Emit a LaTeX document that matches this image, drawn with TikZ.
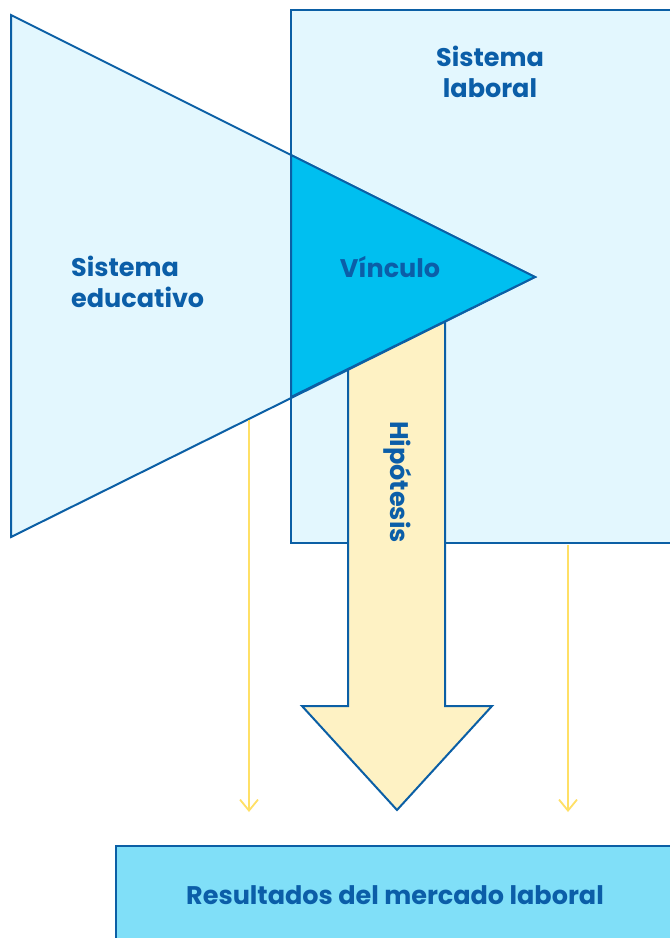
\documentclass[tikz,border=0pt]{standalone}
\usepackage{fontspec}
\setmainfont{Poppins}
\usetikzlibrary{arrows.meta}
\definecolor{dblue}{HTML}{0B5FA5}
\definecolor{txtblue}{HTML}{0B5EA8}
\definecolor{lightfill}{HTML}{E3F7FE}
\definecolor{vinc}{HTML}{00BFF0}
\definecolor{yfill}{HTML}{FEF2C4}
\definecolor{boxfill}{HTML}{80DFF8}
\definecolor{yline}{HTML}{FFE066}
\tikzset{
  shapeline/.style={draw=dblue, line width=2pt, line join=miter},
  lbl/.style={text=txtblue, font=\bfseries\fontsize{25.5}{31}\selectfont, inner sep=0pt},
  thinarrow/.style={draw=yline, line width=1.8pt, -{Straight Barb[length=11pt,width=18pt,line width=1.8pt]}}
}
\begin{document}
\begin{tikzpicture}[x=1pt,y=-1pt]
\useasboundingbox (0,0) rectangle (670,938);
\fill[white] (0,0) rectangle (670,938);
% labour system rectangle
\draw[shapeline, fill=lightfill] (291,10) rectangle (690,543);
% big hypothesis arrow
\draw[shapeline, fill=yfill] (348,330) -- (348,706) -- (302,706) -- (397,810) -- (492,706) -- (445,706) -- (445,300) -- cycle;
% education triangle
\draw[shapeline, fill=lightfill] (11,15) -- (535,277) -- (11,537) -- cycle;
% link region
\draw[shapeline, fill=vinc] (291,155) -- (535,277) -- (291,397) -- cycle;
% bottom box
\draw[shapeline, fill=boxfill] (116,846) rectangle (690,960);
% labels
\node[lbl, align=center] (lab) at (490,72) {Sistema\\laboral};
\node[lbl, align=left, anchor=west] (edu) at (71,282) {Sistema\\educativo};
\node[lbl] (vin) at (390,267) {Vínculo};
\node[lbl, rotate=-90] (hip) at (398,482) {Hipótesis};
\node[lbl] (res) at (395,895) {Resultados del mercado laboral};
% thin arrows
\coordinate (a1s) at (249,420);
\coordinate (a1e) at (249,812);
\coordinate (a2s) at (568,545);
\coordinate (a2e) at (568,812);
\draw[thinarrow] (a1s) -- (a1e);
\draw[thinarrow] (a2s) -- (a2e);
\end{tikzpicture}
\end{document}
